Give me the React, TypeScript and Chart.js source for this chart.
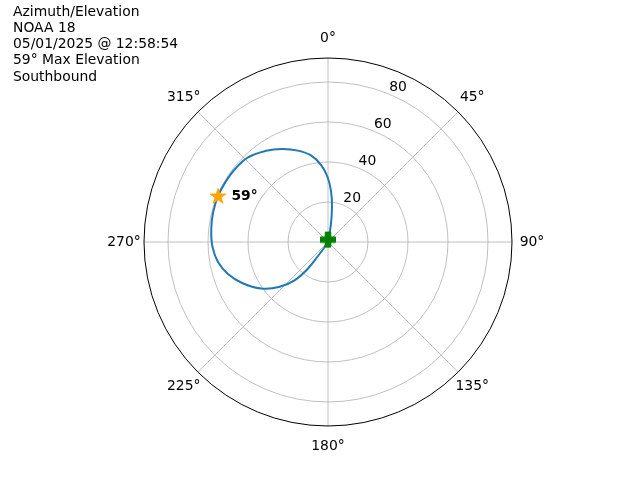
import { useEffect, useRef } from 'react';
import { Chart, registerables } from 'chart.js';

Chart.register(...registerables);

// ---- data (azimuth in degrees clockwise from north, elevation in degrees) ----
const passAzimuth = [10, 9.4, 6.5, 3.4, 359.6, 354.8, 348.9, 341.8, 333.7, 325.3, 316.6, 308, 300, 292.7, 284.2, 275.9, 267.5, 259.7, 252.3, 244.5, 235.2, 227.4, 221, 217, 215.5, 213.7, 213];
const passElevation = [0, 8.6, 17.6, 25.5, 32.5, 38.7, 44.1, 48.1, 51.9, 55.3, 58.2, 59.1, 59.4, 59.6, 59.3, 58.7, 57.8, 55.9, 52.5, 47.6, 40.8, 33.3, 25.2, 16.6, 8.6, 3.6, 0];
const maxAzimuth = [292.7];
const maxElevation = [59.6];
const maxLabel = '59°';
const startAzimuth = [0];
const startElevation = [1.2];
const ringTicks = [20, 40, 60, 80];
const rMax = 92;
const thetaTicks = [0, 45, 90, 135, 180, 225, 270, 315];
const thetaLabels = ['0°', '45°', '90°', '135°', '180°', '225°', '270°', '315°'];
const titleLines = ['Azimuth/Elevation', 'NOAA 18', '05/01/2025 @ 12:58:54', '59° Max Elevation', 'Southbound'];

const FONT = '"DejaVu Sans", sans-serif';
const FS = 13.9;

const rad = (d: number) => (d * Math.PI) / 180;
const toXY = (az: number[], el: number[]) =>
  az.map((a, i) => ({ x: el[i] * Math.sin(rad(a)), y: el[i] * Math.cos(rad(a)) }));

function makeStar(): HTMLCanvasElement {
  const c = document.createElement('canvas');
  c.width = 20; c.height = 20;
  const g = c.getContext('2d')!;
  const R = 8.2, r = R * 0.381, cx = 10, cy = 10.6;
  g.beginPath();
  for (let i = 0; i < 10; i++) {
    const rr = i % 2 === 0 ? R : r;
    const a = rad(i * 36);
    const px = cx + rr * Math.sin(a), py = cy - rr * Math.cos(a);
    if (i === 0) g.moveTo(px, py); else g.lineTo(px, py);
  }
  g.closePath();
  g.fillStyle = '#ffa500';
  g.fill();
  g.strokeStyle = '#ffa500';
  g.lineWidth = 1;
  g.stroke();
  return c;
}

function makePlus(): HTMLCanvasElement {
  const c = document.createElement('canvas');
  c.width = 18; c.height = 18;
  const g = c.getContext('2d')!;
  const w = 15, t = 5.6, o = (18 - w) / 2, m = 9;
  g.fillStyle = '#008000';
  g.strokeStyle = '#008000';
  g.lineWidth = 1;
  g.lineJoin = 'round';
  g.beginPath();
  g.moveTo(m - t / 2, o); g.lineTo(m + t / 2, o); g.lineTo(m + t / 2, m - t / 2);
  g.lineTo(o + w, m - t / 2); g.lineTo(o + w, m + t / 2); g.lineTo(m + t / 2, m + t / 2);
  g.lineTo(m + t / 2, o + w); g.lineTo(m - t / 2, o + w); g.lineTo(m - t / 2, m + t / 2);
  g.lineTo(o, m + t / 2); g.lineTo(o, m - t / 2); g.lineTo(m - t / 2, m - t / 2);
  g.closePath();
  g.fill();
  g.stroke();
  return c;
}

const polarPlugin = {
  id: 'polarGrid',
  beforeDatasetsDraw(chart: any) {
    const { ctx, scales } = chart;
    const cx = scales.x.getPixelForValue(0);
    const cy = scales.y.getPixelForValue(0);
    const ppu = scales.x.getPixelForValue(1) - cx;
    ctx.save();
    ctx.strokeStyle = '#b0b0b0';
    ctx.lineWidth = 0.8;
    for (const t of ringTicks) {
      ctx.beginPath();
      ctx.arc(cx, cy, t * ppu, 0, Math.PI * 2);
      ctx.stroke();
    }
    for (const a of thetaTicks) {
      ctx.beginPath();
      ctx.moveTo(cx, cy);
      ctx.lineTo(cx + rMax * ppu * Math.sin(rad(a)), cy - rMax * ppu * Math.cos(rad(a)));
      ctx.stroke();
    }
    ctx.strokeStyle = '#000000';
    ctx.lineWidth = 1;
    ctx.beginPath();
    ctx.arc(cx, cy, rMax * ppu, 0, Math.PI * 2);
    ctx.stroke();
    ctx.restore();
  },
  afterDraw(chart: any) {
    const { ctx, scales } = chart;
    const cx = scales.x.getPixelForValue(0);
    const cy = scales.y.getPixelForValue(0);
    const ppu = scales.x.getPixelForValue(1) - cx;
    ctx.save();
    ctx.fillStyle = '#000000';
    ctx.font = `${FS}px ${FONT}`;
    ctx.textAlign = 'center';
    ctx.textBaseline = 'middle';
    const lr = rMax * ppu + 20;
    thetaTicks.forEach((a, i) => {
      ctx.fillText(thetaLabels[i], cx + lr * Math.sin(rad(a)), cy - lr * Math.cos(rad(a)));
    });
    ctx.textAlign = 'left';
    ctx.textBaseline = 'alphabetic';
    for (const t of ringTicks) {
      const px = cx + t * ppu * Math.sin(rad(22.5));
      const py = cy - t * ppu * Math.cos(rad(22.5));
      ctx.fillText(String(t), px, py - 3.5);
    }
    const meta = chart.getDatasetMeta(1);
    const el = meta.data[0];
    if (el) {
      ctx.font = `bold ${FS}px ${FONT}`;
      ctx.textAlign = 'left';
      ctx.textBaseline = 'middle';
      ctx.fillText(maxLabel, el.x + 13.4, el.y);
    }
    ctx.font = `${FS}px ${FONT}`;
    ctx.textAlign = 'left';
    ctx.textBaseline = 'middle';
    titleLines.forEach((s, i) => ctx.fillText(s, 13, 12.5 + i * 16.1));
    ctx.restore();
  },
};

export default function App() {
  const ref = useRef<HTMLCanvasElement | null>(null);
  useEffect(() => {
    if (!ref.current) return;
    const star = makeStar();
    const plus = makePlus();
    const chart = new Chart(ref.current, {
      type: 'scatter',
      data: {
        datasets: [
          {
            label: 'start',
            data: toXY(startAzimuth, startElevation),
            pointStyle: plus as any,
            pointRadius: 8,
            showLine: false,
          },
          {
            label: 'max',
            data: toXY(maxAzimuth, maxElevation),
            pointStyle: star as any,
            pointRadius: 8,
            showLine: false,
          },
          {
            label: 'pass',
            data: toXY(passAzimuth, passElevation),
            showLine: true,
            borderColor: '#1f77b4',
            borderWidth: 2,
            pointRadius: 0,
            tension: 0.4,
            fill: false,
          },
        ],
      },
      options: {
        responsive: false,
        animation: false,
        events: [],
        layout: { padding: { left: 128, right: 112, top: 42, bottom: 38 } },
        scales: {
          x: { type: 'linear', min: -100, max: 100, display: false },
          y: { type: 'linear', min: -100, max: 100, display: false },
        },
        plugins: {
          legend: { display: false },
          tooltip: { enabled: false },
          title: { display: false },
        },
      },
      plugins: [polarPlugin],
    });
    return () => chart.destroy();
  }, []);
  return (
    <div style={{ position: 'fixed', left: 0, top: 0, width: 640, height: 480, background: '#ffffff' }}>
      <canvas ref={ref} width={640} height={480} style={{ width: 640, height: 480, display: 'block' }} />
    </div>
  );
}
